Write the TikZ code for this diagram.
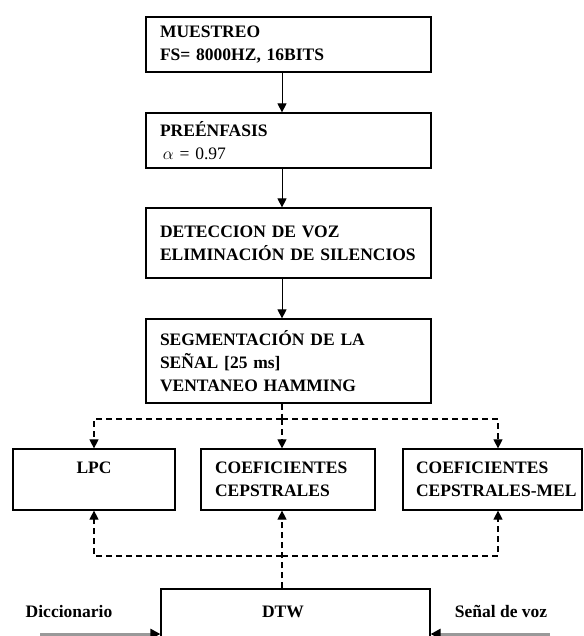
\documentclass[tikz,border=0pt]{standalone}
\usepackage{fontspec}
\setmainfont{Liberation Serif}
\usetikzlibrary{arrows.meta}
\begin{document}
\begin{tikzpicture}[x=1pt,y=-1pt,
  txt/.style={font=\fontsize{17.5}{23}\selectfont\bfseries},
  box/.style={draw, line width=1.2pt, inner sep=0pt, txt},
  mainbox/.style={box, minimum width=285pt, text width=257pt, align=left},
  arr/.style={line width=0.9pt, -{Triangle[length=9pt,width=9pt]}},
  dline/.style={line width=1.1pt, dash pattern=on 6pt off 4pt},
  darr/.style={dline, -{Triangle[length=9pt,width=9pt]}},
  inarr/.style={line width=3pt, gray!80, -{Triangle[length=10pt,width=10pt,color=black]}},
  lbl/.style={txt, inner sep=0pt, anchor=base}]
\useasboundingbox (0,0) rectangle (583,636);
\clip (0,0) rectangle (583,636);
% main chain
\node[mainbox, minimum height=55pt] (m1) at (288.5,44.5) {MUESTREO\\FS= 8000HZ, 16BITS};
\node[mainbox, minimum height=55pt] (m2) at (288.5,140.5) {PREÉNFASIS\\{\mdseries\,$\alpha$ = 0.97}};
\node[mainbox, minimum height=70pt] (m3) at (288.5,243) {DETECCION DE VOZ\\ELIMINACIÓN DE SILENCIOS};
\node[mainbox, minimum height=84pt] (m4) at (288.5,361) {SEGMENTACIÓN DE LA\\SEÑAL [25 ms]\\VENTANEO HAMMING};
% feature boxes
\node[box, minimum width=162pt, minimum height=61pt, align=center] (lpc) at (94,479.5) {LPC\\ \mbox{}};
\node[box, minimum width=174pt, minimum height=61pt, text width=146pt, align=left] (coef) at (288,479.5) {COEFICIENTES\\CEPSTRALES};
\node[box, minimum width=179pt, minimum height=61pt, text width=153pt, align=left] (mel) at (492.5,479.5) {COEFICIENTES\\\mbox{CEPSTRALES-MEL}};
% DTW
\node[box, minimum width=269pt, minimum height=92pt] (dtw) at (295.5,635) {};
\node[lbl] (dtwl) at (283,617) {DTW};
\node[lbl] (dic) at (69,617) {Diccionario};
\node[lbl] (sen) at (501,617) {Señal de voz};
% helper coordinates
\coordinate (ax) at (282,0);
\coordinate (cx) at (498,0);
\coordinate (up) at (0,419);
\coordinate (lo) at (0,556);
\coordinate (dl) at (40,634);
\coordinate (sr) at (550,634);
% solid arrows
\draw[arr] (m1.south -| ax) -- (m2.north -| ax);
\draw[arr] (m2.south -| ax) -- (m3.north -| ax);
\draw[arr] (m3.south -| ax) -- (m4.north -| ax);
% dashed distribution
\draw[dline] (m4.south -| ax) -- (up -| ax);
\draw[darr] (up -| ax) -| (lpc.north);
\draw[darr] (up -| ax) -| (mel.north -| cx);
\draw[darr] (up -| ax) -- (coef.north -| ax);
% dashed return
\draw[darr] (dtw.north -| ax) -- (coef.south -| ax);
\draw[darr] (lo -| ax) -| (lpc.south);
\draw[darr] (lo -| ax) -| (mel.south -| cx);
% inputs
\draw[inarr] (dl) -- (dl -| dtw.west);
\draw[inarr] (sr) -- (sr -| dtw.east);
\end{tikzpicture}
\end{document}
